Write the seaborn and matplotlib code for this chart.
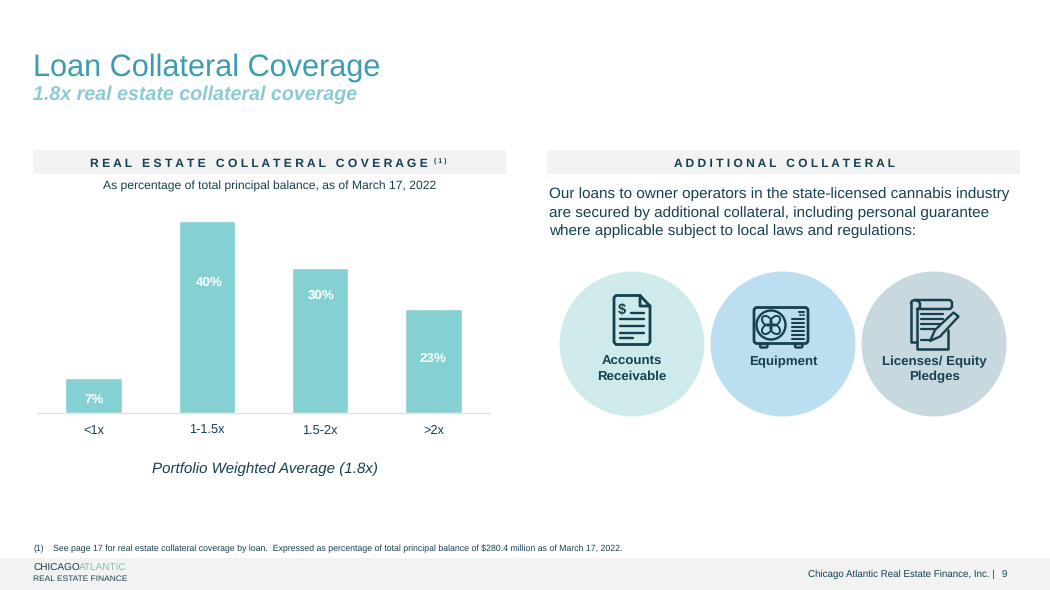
import seaborn as sb
import numpy as np
import pandas as pd
import matplotlib.pyplot as plt
from matplotlib.patches import Circle, Rectangle, FancyBboxPatch, Ellipse, Polygon

# values
categories = ["<1x", "1-1.5x", "1.5-2x", ">2x"]
bar_heights = [7.3, 40, 30.2, 21.6]
bar_labels = ["7%", "40%", "30%", "23%"]

DARK = "#15404f"
TEAL = "#3f9bb0"
LIGHT_TEAL = "#8ccbd2"
BAR = "#85d0d3"
BAND = "#f2f2f2"

sb.set_theme(style="white")
plt.rcParams['font.family'] = ['Liberation Sans', 'DejaVu Sans']
plt.rcParams['text.hinting'] = 'no_hinting'

fig = plt.figure(figsize=(10.5, 5.9), dpi=100, facecolor="white")

# background layer in pixel coords, for the slide furniture
bg = fig.add_axes([0, 0, 1, 1], zorder=0)
bg.set_xlim(0, 1050)
bg.set_ylim(590, 0)
bg.axis("off")


def txt(x, y, s, size, color=DARK, ha="left", **kw):
    return bg.text(x, y, s, fontsize=size, color=color, ha=ha, va="center", **kw)


def line(xs, ys, lw=2.0):
    bg.plot(xs, ys, color=DARK, lw=lw, solid_capstyle="round", solid_joinstyle="round", zorder=4)


# header bands + footer
bg.add_patch(Rectangle((33, 150), 473, 24, color=BAND, lw=0))
bg.add_patch(Rectangle((547, 150), 473, 24, color=BAND, lw=0))
bg.add_patch(Rectangle((0, 558), 1050, 32, color=BAND, lw=0))

txt(33, 68, "Loan Collateral Coverage", 22.05, TEAL)
txt(33, 95, "1.8x real estate collateral coverage", 14.15, LIGHT_TEAL, fontweight="bold", fontstyle="italic")

txt(90, 164, "R E A L   E S T A T E   C O L L A T E R A L   C O V E R A G E", 8.75, fontweight="bold")
txt(434, 161, "( 1 )", 5, fontweight="bold")
txt(784, 164, "A D D I T I O N A L   C O L L A T E R A L", 8.65, ha="center", fontweight="bold")

txt(269.5, 186, "As percentage of total principal balance, as of March 17, 2022", 8.7, ha="center")
txt(264.5, 469, "Portfolio Weighted Average (1.8x)", 10.9, ha="center", fontstyle="italic")

txt(549, 194.5, "Our loans to owner operators in the state-licensed cannabis industry", 11)
txt(549, 213.5, "are secured by additional collateral, including personal guarantee", 11)
txt(549, 231.5, "where applicable subject to local laws and regulations:", 11)

# circles
for cx, col in zip([632, 783, 934], ["#cfeaea", "#bbdff0", "#c8d8df"]):
    bg.add_patch(Circle((cx, 344), 72.5, color=col, lw=0))

txt(632, 362, "Accounts", 9.5, ha="center", fontweight="bold")
txt(632, 376.5, "Receivable", 9.5, ha="center", fontweight="bold")
txt(783, 362, "Equipment", 9.5, ha="center", fontweight="bold")
txt(934.5, 362, "Licenses/ Equity", 9.5, ha="center", fontweight="bold")
txt(934.5, 376.5, "Pledges", 9.5, ha="center", fontweight="bold")

# document icon
line([640, 616, 614, 614, 616, 648, 650, 650, 640, 640, 650],
     [295.5, 295.5, 297.5, 342, 344.5, 344.5, 342, 306, 295.5, 306, 306])
txt(622, 310, "$", 10.5, ha="center", fontweight="bold")
line([631, 644], [313, 313], 1.7)
for yy, x1 in zip([319, 326, 332.5, 338], [644, 644, 644, 633]):
    line([620, x1], [yy, yy], 1.7)

# air con icon
bg.add_patch(FancyBboxPatch((754, 307.5), 54, 36, boxstyle="round,pad=0,rounding_size=3",
                            fc="none", ec=DARK, lw=2, zorder=4))
bg.add_patch(Circle((771, 325), 14.5, fc="none", ec=DARK, lw=1.7, zorder=4))
for ang in [45, 135, 225, 315]:
    a = np.deg2rad(ang)
    bg.add_patch(Ellipse((771 + 6 * np.cos(a), 325 + 6 * np.sin(a)), 11, 8, angle=ang,
                         fc="none", ec=DARK, lw=1.4, zorder=4))
for yy in [319, 323, 327, 331, 335, 339]:
    line([792, 804], [yy, yy], 1.5)
line([799, 804], [311.5, 311.5], 1.5)
line([800, 801], [315, 315], 1.3)
line([803, 804], [315, 315], 1.3)
for fx in [760, 795]:
    bg.add_patch(FancyBboxPatch((fx, 344), 7.5, 3.5, boxstyle="round,pad=0,rounding_size=1.5",
                                fc="none", ec=DARK, lw=1.7, zorder=4))

# licence icon
line([917, 917, 948, 948], [309, 349, 349, 330], 1.8)
line([911, 911, 917], [303, 342, 342], 1.8)
line([915, 950, 952, 952, 950, 917], [300, 300, 302, 307, 309, 309], 1.8)
line([915, 912, 911], [300, 301, 303], 1.8)
line([915, 918, 920, 920, 918], [300, 301, 303, 307, 309], 1.8)
for yy in [314, 319, 324, 329]:
    line([921, 943], [yy, yy], 1.6)
line([921, 930], [340, 340], 1.6)
bg.add_patch(Polygon([(930, 341), (935, 330), (953.5, 312.5), (958.5, 316.5), (940, 336.5)],
                     fc="#c8d8df", ec=DARK, lw=1.7, joinstyle="round", zorder=5))
line([950, 955], [316, 320], 1.4)
line([936, 941], [331, 336], 1.4)

# footnote + footer text
txt(33, 548.5, "(1)", 6.2)
txt(53, 548.5, "See page 17 for real estate collateral coverage by loan.  Expressed as percentage of "
               "total principal balance of $280.4 million as of March 17, 2022.", 6.27)
txt(995, 574.5, "Chicago Atlantic Real Estate Finance, Inc. |", 7.06, ha="right")
txt(1002, 575, "9", 7.06)
txt(33, 568.5, "CHICAGO", 7.2, DARK)
txt(79, 568.5, "ATLANTIC", 7.2, "#7fc4b8")
txt(33, 579, "REAL ESTATE FINANCE", 6, DARK)

# bar chart, 37-490 px wide, baseline at y=413
ax = fig.add_axes([37 / 1050, (590 - 413) / 590, 453 / 1050, 200 / 590], zorder=2)
ax.patch.set_alpha(0)
df = pd.DataFrame({"bucket": categories, "pct": bar_heights})
sb.barplot(data=df, x="bucket", y="pct", color=BAR, saturation=1, width=0.5, ax=ax)
ax.set_xlim(-0.5, 3.5)
ax.set_ylim(0, 200 / 4.8)
ax.set_xlabel("")
ax.set_ylabel("")
ax.set_yticks([])
ax.tick_params(axis="x", length=0, pad=8, labelsize=9.2, labelcolor=DARK)
sb.despine(ax=ax, left=True)
ax.spines["bottom"].set_color("#dfe3e4")
ax.spines["bottom"].set_linewidth(1)

# labels are not centred in the bars in the original, so each gets its own spot
label_y = [2.8, 27.2, 24.4, 11.3]
label_dx = [0, 0.02, 0.01, -0.007]
for bar, lab, ly, dx in zip(ax.patches, bar_labels, label_y, label_dx):
    ax.text(bar.get_x() + bar.get_width() / 2 + dx, ly, lab,
            ha="center", va="center", color="white", fontsize=9.6, fontweight="bold")

fig.savefig("out.png", dpi=100, facecolor="white")
